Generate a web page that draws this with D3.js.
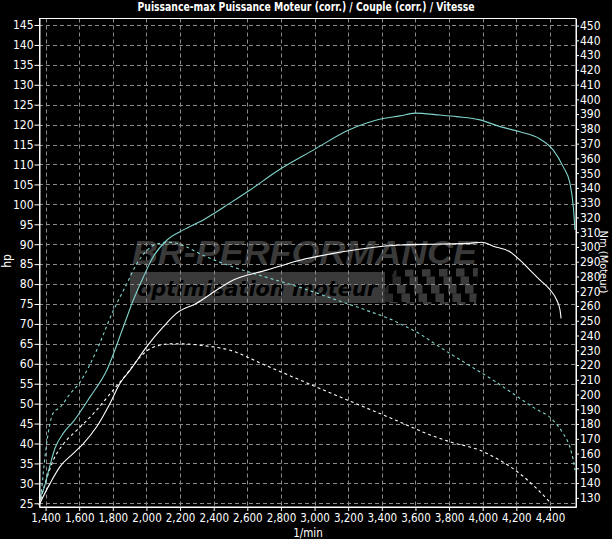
<!DOCTYPE html>
<html><head><meta charset="utf-8">
<script src="https://cdn.jsdelivr.net/npm/d3@7"></script>
<style>html,body{margin:0;padding:0;background:#000;}svg{display:block}</style>
</head><body>
<svg id="c" width="612" height="539"></svg>
<script>
// ---------- data ----------
const rpmTicks = [1400,1600,1800,2000,2200,2400,2600,2800,3000,3200,3400,3600,3800,4000,4200,4400];
const hpTicks = [25,30,35,40,45,50,55,60,65,70,75,80,85,90,95,100,105,110,115,120,125,130,135,140,145];
const nmTicks = [130,140,150,160,170,180,190,200,210,220,230,240,250,260,270,280,290,300,310,320,330,340,350,360,370,380,390,400,410,420,430,440,450];

// Puissance moteur (corr.) [hp] - cyan solid
const powerRpm = [1361,1387,1420,1456,1506,1565,1665,1764,1863,1922,1982,2041,2121,2220,2338,2497,2616,2794,3000,3200,3400,3508,3597,3746,3845,3984,4103,4222,4341,4420,4479,4519,4539,4549];
const powerHp  = [26.3,28.3,33.5,38.8,42.6,45.5,51.7,58.4,69.3,76.0,81.8,86.9,91.0,93.6,96.1,100.3,103.6,108.8,113.8,118.6,121.5,122.2,122.9,122.4,122.0,121.2,119.5,118.2,116.4,113.6,109.4,105.3,99.4,93.6];

// Puissance-max [hp] - white solid
const maxRpm = [1361,1427,1486,1565,1625,1704,1784,1843,1903,2002,2101,2180,2299,2418,2517,2715,2914,3112,3310,3508,3706,3905,3994,4063,4162,4222,4281,4341,4400,4440,4460,4466];
const maxHp  = [24.6,30.0,34.2,37.5,40.0,44.2,50.1,55.1,58.4,64.3,69.3,72.7,75.2,78.5,81.0,83.5,86.0,87.7,89.0,89.8,90.0,90.2,90.5,89.5,88.1,86.0,83.5,81.0,78.6,76.0,73.5,71.4];

// Couple (corr.) [Nm] - cyan dashed
const torqueRpm = [1372,1400,1446,1486,1546,1605,1704,1803,1883,1942,2002,2061,2140,2240,2319,2517,2715,2914,3112,3310,3468,3508,3627,3746,3905,4063,4182,4301,4420,4479,4519,4539,4549];
const torqueNm  = [129.7,161.1,187.6,191.3,200.5,208.4,230.0,256.9,275.0,288.5,297.5,302.0,303.1,299.9,295.3,286.4,279.4,272.6,264.8,257.0,250.2,248.0,241.0,232.1,220.8,209.7,200.5,191.3,182.4,173.5,164.3,155.4,148.7];

// Couple-max [Nm] - white dashed
const torqueMaxRpm = [1361,1397,1446,1506,1585,1684,1784,1883,1962,2041,2140,2220,2338,2497,2700,2900,3100,3300,3508,3668,3808,3984,4103,4222,4321,4400];
const torqueMaxNm  = [124.9,139.5,155.4,166.5,175.7,187.0,200.5,214.0,225.4,232.1,234.3,234.3,233.2,230.0,220.2,210.5,200.8,191.3,181.4,173.5,167.9,162.2,155.4,146.3,136.3,127.1];

const titleText = "Puissance-max Puissance Moteur (corr.) / Couple (corr.) / Vitesse";

// ---------- layout ----------
const L = 39, R = 576, T = 18.5, B = 507;
const svg = d3.select("#c");
const font = "'Liberation Sans Narrow','Arial Narrow','DejaVu Sans Condensed',sans-serif";

const x = d3.scaleLinear().domain([1361, 4555]).range([L, R]);
const yL = d3.scaleLinear().domain([24.07, 146.63]).range([B, T]);
const yR = d3.scaleLinear().domain([123.8, 454.8]).range([B, T]);

svg.append("rect").attr("width",612).attr("height",539).attr("fill","#000");

// ---------- watermark ----------
const wm = svg.append("g");
wm.append("text").attr("x",132).attr("y",264).attr("font-family","'Liberation Sans','Arial',sans-serif")
  .attr("font-weight","bold").attr("font-style","italic").attr("font-size",33)
  .attr("fill","#3a3a3a").attr("textLength",345).attr("lengthAdjust","spacingAndGlyphs")
  .text("BR-PERFORMANCE");
wm.append("rect").attr("x",130).attr("y",272).attr("width",255).attr("height",31).attr("fill","#3a3a3a");
wm.append("text").attr("x",137).attr("y",296).attr("font-family","'DejaVu Sans','Verdana',sans-serif")
  .attr("font-weight","bold").attr("font-style","italic").attr("font-size",22)
  .attr("fill","#000").attr("textLength",240).attr("lengthAdjust","spacingAndGlyphs")
  .text("optimisation moteur");
// checkered flag
const cp = svg.append("defs").append("clipPath").attr("id","flagclip");
cp.append("polygon").attr("points","378,303 395,270 478,268 476,305");
const flag = wm.append("g").attr("clip-path","url(#flagclip)");
const sq = 8.5;
for (let i = 0; i < 14; i++) {
  for (let j = 0; j < 5; j++) {
    if ((i + j) % 2 === 0) {
      flag.append("rect").attr("x", 372 + i*sq + (4-j)*4).attr("y", 268 + j*sq)
        .attr("width", sq).attr("height", sq).attr("fill", i < 2 ? "#2a2a2a" : "#3a3a3a");
    }
  }
}

// ---------- grid ----------
const grid = svg.append("g").attr("stroke","#8a8a8a").attr("stroke-width",1).attr("stroke-dasharray","4,3");
grid.selectAll("line.h").data(hpTicks).join("line").attr("class","h")
  .attr("x1",L).attr("x2",R).attr("y1",d=>Math.round(yL(d))+0.5).attr("y2",d=>Math.round(yL(d))+0.5);
grid.selectAll("line.v").data(rpmTicks).join("line").attr("class","v")
  .attr("y1",T).attr("y2",B).attr("x1",d=>Math.round(x(d))+0.5).attr("x2",d=>Math.round(x(d))+0.5);

// ---------- curves ----------
const lineL = d3.line().x(d=>x(d[0])).y(d=>yL(d[1])).curve(d3.curveMonotoneX);
const lineR = d3.line().x(d=>x(d[0])).y(d=>yR(d[1])).curve(d3.curveMonotoneX);
const cyan = "#7fd3cc";
const series = [
  {rpm: torqueRpm, v: torqueNm, gen: lineR, color: cyan, dash: "3,3"},
  {rpm: torqueMaxRpm, v: torqueMaxNm, gen: lineR, color: "#ffffff", dash: "3,3"},
  {rpm: maxRpm, v: maxHp, gen: lineL, color: "#ffffff", dash: null},
  {rpm: powerRpm, v: powerHp, gen: lineL, color: cyan, dash: null}
];
series.forEach(s => {
  svg.append("path").attr("d", s.gen(s.rpm.map((r,i)=>[r, s.v[i]])))
    .attr("fill","none").attr("stroke",s.color).attr("stroke-width",1.1)
    .attr("stroke-dasharray", s.dash);
});

// ---------- frame & axes ----------
svg.append("rect").attr("x",L+0.5).attr("y",T).attr("width",R-L-0.5).attr("height",B-T)
  .attr("fill","none").attr("stroke","#fff").attr("stroke-width",1);

function styleAxis(g, size){
  g.select(".domain").attr("stroke","#fff");
  g.selectAll(".tick line").attr("stroke","#fff");
  g.selectAll(".tick text").attr("fill","#fff").attr("font-family",font).attr("font-size",size);
}
svg.append("g").attr("transform",`translate(${L+0.5},0)`)
  .call(d3.axisLeft(yL).tickValues(hpTicks).tickSize(5).tickPadding(1).tickSizeOuter(0))
  .call(g=>styleAxis(g,12));
svg.append("g").attr("transform",`translate(${R},0)`)
  .call(d3.axisRight(yR).tickValues(nmTicks).tickSize(3).tickPadding(1).tickSizeOuter(0).tickFormat(d3.format("d")))
  .call(g=>styleAxis(g,12));
svg.append("g").attr("transform",`translate(0,${B})`)
  .call(d3.axisBottom(x).tickValues(rpmTicks).tickSize(4).tickPadding(3).tickSizeOuter(0).tickFormat(d3.format(",")))
  .call(g=>styleAxis(g,11.5));

// ---------- titles ----------
svg.append("text").attr("x",306).attr("y",11).attr("text-anchor","middle")
  .attr("font-family",font).attr("font-weight","bold").attr("font-size",12.5).attr("fill","#fff")
  .attr("textLength",337).attr("lengthAdjust","spacingAndGlyphs").text(titleText);
svg.append("text").attr("transform","translate(11,261) rotate(-90)").attr("text-anchor","middle")
  .attr("font-family",font).attr("font-size",12).attr("fill","#fff").text("hp");
svg.append("text").attr("transform","translate(600,262) rotate(90)").attr("text-anchor","middle")
  .attr("font-family",font).attr("font-size",11).attr("fill","#fff").text("Nm (Moteur)");
svg.append("text").attr("x",308).attr("y",537).attr("text-anchor","middle")
  .attr("font-family",font).attr("font-size",11.5).attr("fill","#fff").text("1/min");
</script>
</body></html>
